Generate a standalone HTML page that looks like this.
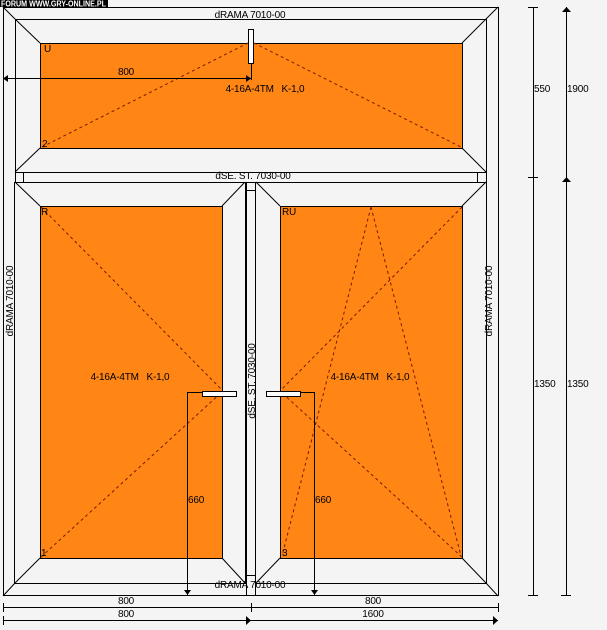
<!DOCTYPE html>
<html><head><meta charset="utf-8"><style>
html,body{margin:0;padding:0;background:#f4f4f4;}
svg{display:block}
text{font-family:"Liberation Sans",sans-serif;font-size:10px;fill:#000;letter-spacing:-0.2px}
</style></head><body>
<svg width="607" height="630" viewBox="0 0 607 630" xmlns="http://www.w3.org/2000/svg">
<rect width="607" height="630" fill="#f4f4f4"/>
<g stroke="#000" stroke-width="1" fill="none" shape-rendering="crispEdges">
<rect x="3.5" y="7.5" width="495" height="588"/>
<rect x="15.5" y="19.5" width="471" height="153"/>
<rect x="40.5" y="43.5" width="422" height="105" fill="#ff8614"/>
<rect x="15.5" y="172.5" width="8" height="10"/>
<rect x="477.5" y="172.5" width="9" height="10"/>
<rect x="14.5" y="182.5" width="231" height="401"/>
<rect x="40.5" y="206.5" width="182" height="352" fill="#ff8614"/>
<rect x="255.5" y="182.5" width="231" height="401"/>
<rect x="280.5" y="206.5" width="182" height="352" fill="#ff8614"/>
<rect x="246.5" y="182.5" width="9" height="413"/>
<line x1="246" y1="190.5" x2="255" y2="190.5"/>
<line x1="246" y1="575.5" x2="255" y2="575.5"/>
</g>
<g stroke="#000" stroke-width="1" fill="none">
<line x1="3" y1="7" x2="15" y2="19"/><line x1="498" y1="7" x2="486" y2="19"/>
<line x1="3" y1="596" x2="15" y2="583"/><line x1="498" y1="596" x2="486" y2="583"/>
<line x1="15" y1="19" x2="40" y2="43"/><line x1="486" y1="19" x2="462" y2="43"/>
<line x1="15" y1="172" x2="40" y2="148"/><line x1="486" y1="172" x2="462" y2="148"/>
<line x1="15" y1="182" x2="40" y2="206"/><line x1="245" y1="182" x2="222" y2="206"/>
<line x1="15" y1="583" x2="40" y2="558"/><line x1="245" y1="583" x2="222" y2="558"/>
<line x1="256" y1="182" x2="280" y2="206"/><line x1="486" y1="182" x2="462" y2="206"/>
<line x1="256" y1="583" x2="280" y2="558"/><line x1="486" y1="583" x2="462" y2="558"/>
</g>
<g stroke="#7a1a00" stroke-width="1" fill="none" stroke-dasharray="3,3">
<line x1="42" y1="147" x2="248" y2="43"/><line x1="254" y1="43" x2="461" y2="147"/>
<line x1="41" y1="207" x2="222" y2="390"/><line x1="41" y1="557" x2="222" y2="392"/>
<line x1="462" y1="207" x2="281" y2="390"/><line x1="462" y1="557" x2="281" y2="392"/>
<line x1="371" y1="207" x2="282" y2="556"/><line x1="371" y1="207" x2="461" y2="556"/>
</g>
<g stroke="#000" stroke-width="1" fill="#fff" shape-rendering="crispEdges">
<rect x="248.5" y="29.5" width="5" height="34"/>
<rect x="202.5" y="391.5" width="34" height="5"/>
<rect x="266.5" y="391.5" width="34" height="5"/>
</g>
<g stroke="#000" stroke-width="1" fill="none" shape-rendering="crispEdges">
<line x1="3" y1="78.5" x2="251" y2="78.5"/><line x1="251.5" y1="63" x2="251.5" y2="80"/>
<line x1="187.5" y1="392" x2="187.5" y2="595"/><line x1="187" y1="392.5" x2="203" y2="392.5"/>
<line x1="314.5" y1="392" x2="314.5" y2="595"/><line x1="300" y1="392.5" x2="314" y2="392.5"/>
<line x1="3" y1="607.5" x2="498" y2="607.5"/>
<line x1="3.5" y1="603" x2="3.5" y2="612"/><line x1="251.5" y1="603" x2="251.5" y2="612"/><line x1="498.5" y1="603" x2="498.5" y2="612"/>
<line x1="3" y1="620.5" x2="498" y2="620.5"/><line x1="3.5" y1="616" x2="3.5" y2="625"/>
<line x1="533.5" y1="7" x2="533.5" y2="596"/>
<line x1="528" y1="7.5" x2="538" y2="7.5"/><line x1="528" y1="177.5" x2="538" y2="177.5"/><line x1="528" y1="595.5" x2="538" y2="595.5"/>
<line x1="566.5" y1="7" x2="566.5" y2="596"/><line x1="561" y1="595.5" x2="571" y2="595.5"/>
</g>
<g fill="#000">
<polygon points="3,78.5 8,75 8,82"/><polygon points="251,78.5 246,75 246,82"/>
<polygon points="187.5,595 184,590 191,590"/><polygon points="314.5,595 311,590 318,590"/>
<polygon points="251,620.5 246,616 246,625"/><polygon points="498,620.5 493,616 493,625"/>
<polygon points="566.5,7 562,12 571,12"/><polygon points="566.5,177 562,182 571,182"/>
</g>
<rect x="0" y="0" width="108" height="7" fill="#000"/>
<text x="1" y="6.5" textLength="105" lengthAdjust="spacingAndGlyphs" style="font-size:8px;fill:#fff;font-weight:bold;letter-spacing:0">FORUM WWW.GRY-ONLINE.PL</text>
<text x="250" y="18" text-anchor="middle">dRAMA 7010-00</text>
<text x="44" y="52">U</text>
<text x="42" y="147">2</text>
<text x="126" y="75" text-anchor="middle">800</text>
<text x="265" y="92" text-anchor="middle">4-16A-4TM&#160;&#160; K-1,0</text>
<text x="253" y="179" text-anchor="middle">dSE. ST. 7030-00</text>
<text x="41" y="215">R</text>
<text x="282" y="215">RU</text>
<text x="41" y="556">1</text>
<text x="282" y="556">3</text>
<text x="130" y="380" text-anchor="middle">4-16A-4TM&#160;&#160; K-1,0</text>
<text x="370" y="380" text-anchor="middle">4-16A-4TM&#160;&#160; K-1,0</text>
<text x="188" y="503">660</text>
<text x="315" y="503">660</text>
<text x="250" y="588" text-anchor="middle">dRAMA 7010-00</text>
<text transform="translate(13,301) rotate(-90)" text-anchor="middle">dRAMA 7010-00</text>
<text transform="translate(492,301) rotate(-90)" text-anchor="middle">dRAMA 7010-00</text>
<text transform="translate(255,381) rotate(-90)" text-anchor="middle">dSE. ST. 7030-00</text>
<text x="126" y="604" text-anchor="middle">800</text>
<text x="373" y="604" text-anchor="middle">800</text>
<text x="126" y="617" text-anchor="middle">800</text>
<text x="373" y="617" text-anchor="middle">1600</text>
<text x="534" y="92">550</text>
<text x="567" y="92">1900</text>
<text x="534" y="387">1350</text>
<text x="567" y="387">1350</text>
</svg>
</body></html>
